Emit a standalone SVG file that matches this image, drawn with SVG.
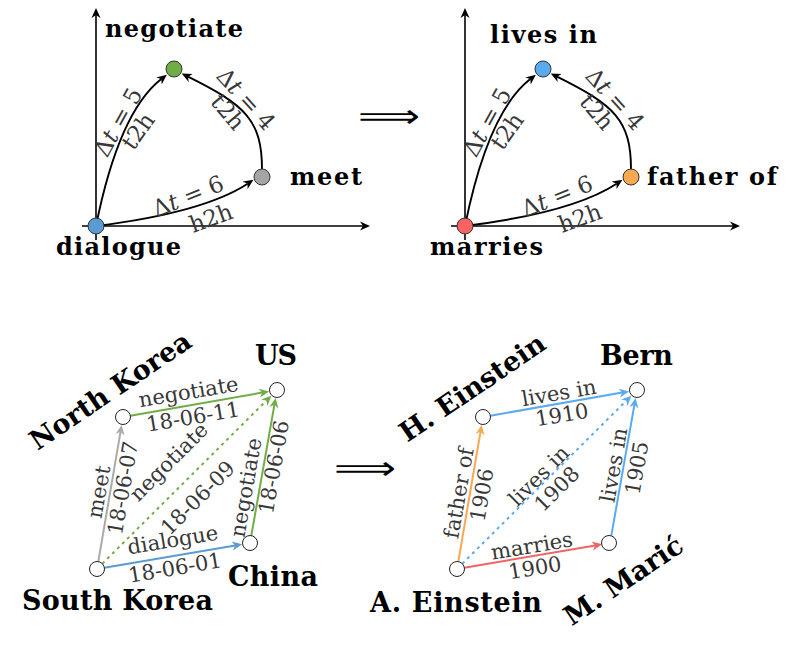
<svg xmlns="http://www.w3.org/2000/svg" width="798" height="648" viewBox="0 0 798 648">
<style>
.nl{font-family:"DejaVu Serif","Liberation Serif",serif;font-weight:bold;fill:#000}
.nt{font-size:24px}
.nb{font-size:27px}
.el{font-family:"DejaVu Serif","Liberation Serif",serif;font-size:21px;fill:#383838;text-anchor:middle}
.elt{font-size:23px}
.ax{stroke:#000;stroke-width:1.6;fill:none}
.ed{stroke:#000;stroke-width:1.9;fill:none}
.bn{fill:#fff;stroke:#222;stroke-width:1}
.tn{stroke:#333;stroke-width:1}
.imp{font-family:"DejaVu Sans",sans-serif;font-size:32px;fill:#000}
</style>
<defs>
<marker id="ak" viewBox="0 0 12 10" markerWidth="12" markerHeight="10" refX="3" refY="5" orient="auto" markerUnits="userSpaceOnUse"><path d="M0,0.5 L10,5 L0,9.5 L3,5 Z" fill="#000"/></marker>
<marker id="ag" viewBox="0 0 12 10" markerWidth="12" markerHeight="10" refX="3" refY="5" orient="auto" markerUnits="userSpaceOnUse"><path d="M0,0.5 L10,5 L0,9.5 L3,5 Z" fill="#70ad47"/></marker>
<marker id="agr" viewBox="0 0 12 10" markerWidth="12" markerHeight="10" refX="3" refY="5" orient="auto" markerUnits="userSpaceOnUse"><path d="M0,0.5 L10,5 L0,9.5 L3,5 Z" fill="#aaaaaa"/></marker>
<marker id="ab" viewBox="0 0 12 10" markerWidth="12" markerHeight="10" refX="3" refY="5" orient="auto" markerUnits="userSpaceOnUse"><path d="M0,0.5 L10,5 L0,9.5 L3,5 Z" fill="#5b9bd5"/></marker>
<marker id="alb" viewBox="0 0 12 10" markerWidth="12" markerHeight="10" refX="3" refY="5" orient="auto" markerUnits="userSpaceOnUse"><path d="M0,0.5 L10,5 L0,9.5 L3,5 Z" fill="#5aaaf0"/></marker>
<marker id="ao" viewBox="0 0 12 10" markerWidth="12" markerHeight="10" refX="3" refY="5" orient="auto" markerUnits="userSpaceOnUse"><path d="M0,0.5 L10,5 L0,9.5 L3,5 Z" fill="#f7a850"/></marker>
<marker id="ar" viewBox="0 0 12 10" markerWidth="12" markerHeight="10" refX="3" refY="5" orient="auto" markerUnits="userSpaceOnUse"><path d="M0,0.5 L10,5 L0,9.5 L3,5 Z" fill="#f06464"/></marker>
</defs>

<!-- Top-left panel -->
<g id="connectors-top-left">
<line class="ax" x1="96" y1="240" x2="96" y2="15" marker-end="url(#ak)"/>
<line class="ax" x1="82" y1="226" x2="363" y2="226" marker-end="url(#ak)"/>
<path class="ed" d="M96,226 Q119,112 161.3,79.1" marker-end="url(#ak)"/>
<path class="ed" d="M262,169 C262,120 245,105 188,76.7" marker-end="url(#ak)"/>
<path class="ed" d="M96,226 C160,218 215,205 247.6,183.7" marker-end="url(#ak)"/>
<text class="el elt" transform="translate(118,122) rotate(-61)" y="8">Δ<tspan font-style="italic">t</tspan> = 5</text>
<text class="el elt" transform="translate(138,131) rotate(-55)" y="8">t2h</text>
<text class="el elt" transform="translate(246,99) rotate(48)" y="8">Δ<tspan font-style="italic">t</tspan> = 4</text>
<text class="el elt" transform="translate(228,112) rotate(50)" y="8">t2h</text>
<text class="el elt" transform="translate(188,196) rotate(-22)" y="8">Δ<tspan font-style="italic">t</tspan> = 6</text>
<text class="el elt" transform="translate(211,218) rotate(-20)" y="8">h2h</text>
</g>
<g id="node-negotiate-t"><circle class="tn" cx="174" cy="69" r="8" fill="#70ad47"/><text class="nl nt" x="105" y="37" textLength="138">negotiate</text></g>
<g id="node-meet-t"><circle class="tn" cx="262" cy="177" r="8" fill="#a5a5a5"/><text class="nl nt" x="290" y="185" textLength="72">meet</text></g>
<g id="node-dialogue-t"><circle class="tn" cx="96" cy="226" r="8" fill="#5b9bd5"/><text class="nl nt" x="56" y="255" textLength="125">dialogue</text></g>

<!-- Top-right panel -->
<g transform="translate(369,0)">
<g id="connectors-top-right">
<line class="ax" x1="96" y1="240" x2="96" y2="15" marker-end="url(#ak)"/>
<line class="ax" x1="82" y1="226" x2="364" y2="226" marker-end="url(#ak)"/>
<path class="ed" d="M96,226 Q119,112 161.3,79.1" marker-end="url(#ak)"/>
<path class="ed" d="M262,169 C262,120 245,105 188,76.7" marker-end="url(#ak)"/>
<path class="ed" d="M96,226 C160,218 215,205 247.6,183.7" marker-end="url(#ak)"/>
<text class="el elt" transform="translate(118,122) rotate(-61)" y="8">Δ<tspan font-style="italic">t</tspan> = 5</text>
<text class="el elt" transform="translate(138,131) rotate(-55)" y="8">t2h</text>
<text class="el elt" transform="translate(246,99) rotate(48)" y="8">Δ<tspan font-style="italic">t</tspan> = 4</text>
<text class="el elt" transform="translate(228,112) rotate(50)" y="8">t2h</text>
<text class="el elt" transform="translate(188,196) rotate(-22)" y="8">Δ<tspan font-style="italic">t</tspan> = 6</text>
<text class="el elt" transform="translate(211,218) rotate(-20)" y="8">h2h</text>
</g>
<g id="node-livesin-t"><circle class="tn" cx="174" cy="69" r="8" fill="#5aaaf0"/><text class="nl nt" x="121" y="43" textLength="107">lives in</text></g>
<g id="node-fatherof-t"><circle class="tn" cx="262" cy="177" r="8" fill="#f7a850"/><text class="nl nt" x="278" y="185" textLength="130">father of</text></g>
<g id="node-marries-t"><circle class="tn" cx="96" cy="226" r="8" fill="#f86464"/><text class="nl nt" x="61" y="255" textLength="113">marries</text></g>
</g>

<text class="imp" x="358" y="127" textLength="62" lengthAdjust="spacingAndGlyphs">⟹</text>
<text class="imp" x="334" y="479" textLength="62" lengthAdjust="spacingAndGlyphs">⟹</text>

<!-- Bottom-left panel -->
<g id="connectors-bottom-left" stroke-width="2" fill="none">
<line x1="98.3" y1="561.6" x2="120.5" y2="431.8" stroke="#aaaaaa" marker-end="url(#agr)"/>
<line x1="130.4" y1="415.7" x2="262.2" y2="392.6" stroke="#70ad47" marker-end="url(#ag)"/>
<line x1="102.3" y1="563.7" x2="266.4" y2="400.6" stroke="#70ad47" stroke-dasharray="3 4" marker-end="url(#ag)"/>
<line x1="251.3" y1="535.6" x2="274.4" y2="404.8" stroke="#70ad47" marker-end="url(#ag)"/>
<line x1="104.4" y1="567.7" x2="235.2" y2="545.5" stroke="#5b9bd5" marker-end="url(#ab)"/>
<g stroke="none">
<text class="el" transform="translate(189,395) rotate(-9.6)" y="4">negotiate</text>
<text class="el" transform="translate(193,417) rotate(-9.6)" y="7">18-06-11</text>
<text class="el" transform="translate(100,492) rotate(-80)" y="6">meet</text>
<text class="el" transform="translate(123,488) rotate(-80)" y="7">18-06-07</text>
<text class="el" transform="translate(171,464) rotate(-45)" y="4">negotiate</text>
<text class="el" transform="translate(198,498) rotate(-45)" y="7">18-06-09</text>
<text class="el" transform="translate(249,488) rotate(-80)" y="4">negotiate</text>
<text class="el" transform="translate(274,467) rotate(-80)" y="7">18-06-06</text>
<text class="el" transform="translate(173,542) rotate(-9.6)" y="5">dialogue</text>
<text class="el" transform="translate(175,568) rotate(-9.6)" y="7">18-06-01</text>
</g>
</g>
<g id="node-south-korea"><circle class="bn" cx="97" cy="569" r="7.5"/><text class="nl nb" x="22" y="610" textLength="191">South Korea</text></g>
<g id="node-north-korea"><circle class="bn" cx="123" cy="417" r="7.5"/><text class="nl nb" transform="translate(110,390) rotate(-34)" y="10" text-anchor="middle">North Korea</text></g>
<g id="node-us"><circle class="bn" cx="277" cy="390" r="7.5"/><text class="nl nb" x="255" y="365" textLength="42">US</text></g>
<g id="node-china"><circle class="bn" cx="250" cy="543" r="7.5"/><text class="nl nb" x="228" y="586" textLength="90">China</text></g>

<!-- Bottom-right panel -->
<g id="connectors-bottom-right" stroke-width="2" fill="none">
<line x1="458.3" y1="561.6" x2="480.5" y2="431.8" stroke="#f7a850" marker-end="url(#ao)"/>
<line x1="490.4" y1="415.7" x2="622.2" y2="392.6" stroke="#5aaaf0" marker-end="url(#alb)"/>
<line x1="462.3" y1="563.7" x2="626.4" y2="400.6" stroke="#5aaaf0" stroke-dasharray="3 4" marker-end="url(#alb)"/>
<line x1="611.3" y1="535.6" x2="634.4" y2="404.8" stroke="#5aaaf0" marker-end="url(#alb)"/>
<line x1="464.4" y1="567.7" x2="595.2" y2="545.5" stroke="#f06464" marker-end="url(#ar)"/>
<g stroke="none">
<text class="el" transform="translate(559,393) rotate(-9.6)" y="7">lives in</text>
<text class="el" transform="translate(562,415) rotate(-9.6)" y="7">1910</text>
<text class="el" transform="translate(459,493) rotate(-80)" y="7">father of</text>
<text class="el" transform="translate(482,495) rotate(-80)" y="7">1906</text>
<text class="el" transform="translate(539,476) rotate(-45)" y="7">lives in</text>
<text class="el" transform="translate(557,489) rotate(-45)" y="7">1908</text>
<text class="el" transform="translate(614,465) rotate(-80)" y="7">lives in</text>
<text class="el" transform="translate(637,468) rotate(-80)" y="7">1905</text>
<text class="el" transform="translate(532,547) rotate(-9.6)" y="6">marries</text>
<text class="el" transform="translate(535,568) rotate(-9.6)" y="7">1900</text>
</g>
</g>
<g id="node-a-einstein"><circle class="bn" cx="457" cy="569" r="7.5"/><text class="nl nb" x="370" y="612" textLength="172">A. Einstein</text></g>
<g id="node-h-einstein"><circle class="bn" cx="483" cy="417" r="7.5"/><text class="nl nb" transform="translate(472,387) rotate(-34)" y="10" text-anchor="middle">H. Einstein</text></g>
<g id="node-bern"><circle class="bn" cx="637" cy="390" r="7.5"/><text class="nl nb" x="600" y="365" textLength="73">Bern</text></g>
<g id="node-m-maric"><circle class="bn" cx="609" cy="543" r="7.5"/><text class="nl nb" transform="translate(623,580) rotate(-34)" y="10" text-anchor="middle">M. Marić</text></g>
</svg>
